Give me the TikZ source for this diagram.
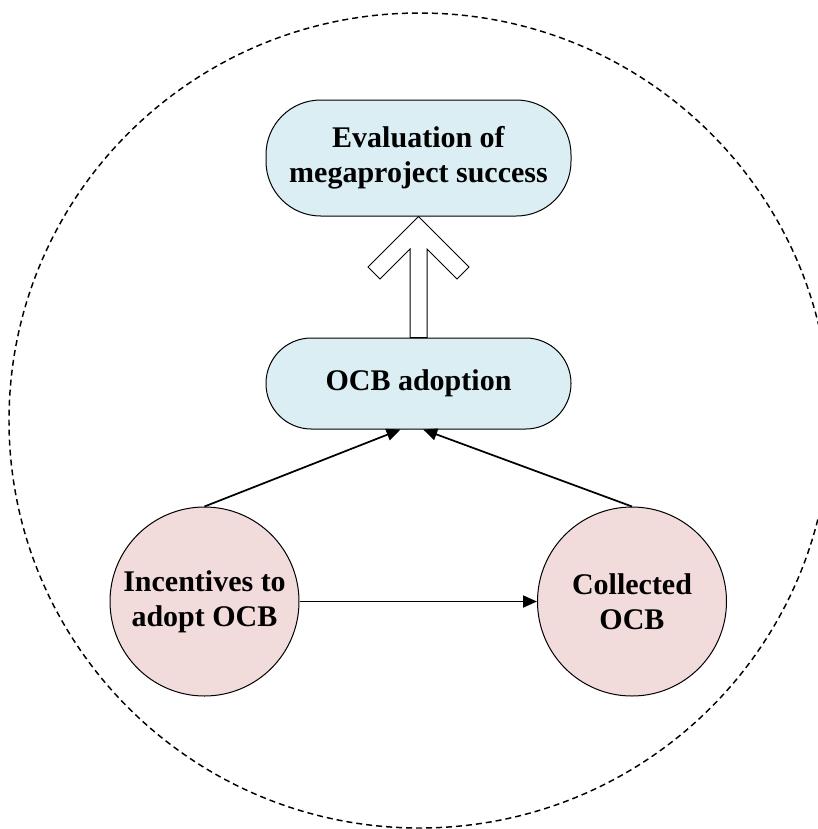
\documentclass[tikz,border=0pt]{standalone}
\usepackage{fontspec}
\setmainfont{Liberation Serif}
\usetikzlibrary{arrows.meta,calc}
\definecolor{boxblue}{HTML}{DAEEF3}
\definecolor{discpink}{HTML}{F2DCDB}
\begin{document}
\begin{tikzpicture}[x=0.75pt,y=-0.75pt,
  lbl/.style={font=\fontsize{22.5}{26.25}\selectfont\bfseries, align=center, text=black},
  pill/.style={lbl, draw=black, line width=0.75pt, fill=boxblue,
               minimum width=228.75pt, inner sep=0pt},
  disc/.style={lbl, circle, draw=black, line width=0.75pt, fill=discpink,
               minimum size=141.75pt, inner sep=0pt},
  link/.style={line width=1.3pt, -{Triangle[length=10.5pt,width=9pt]}},
  hollow/.style={draw=black, line width=0.75pt, fill=white, line join=miter},
  frame/.style={line width=1.1pt, dash pattern=on 4.5pt off 3pt}]
\useasboundingbox (0,0) rectangle (818,829);

% dashed boundary, cut off by the page edge on the right
\begin{scope}
  \clip (0,0) rectangle (818,829);
  \draw[frame] (419.5,420.5) ellipse [x radius=410.5, y radius=407.5];
\end{scope}

% nodes
\node[pill, rounded corners=41pt, minimum height=87pt] (eval) at (418.5,158)
  {Evaluation of\\megaproject success};
\node[pill, rounded corners=34pt, minimum height=68.25pt] (adopt) at (418.5,383.5)
  {OCB adoption};
\node[disc] (inc) at (204.5,601.5) {Incentives to\\adopt OCB};
\node[disc] (col) at (632,601.5) {Collected\\OCB};

% connectors
\draw[link] (inc) -- (col);
\draw[link] (inc.north) -- ([xshift=-13.5pt]adopt.south);
\draw[link] (col.north) -- ([xshift=3.5pt]adopt.south);

% hollow block arrow from OCB adoption up to the evaluation box
\draw[hollow] (eval.south) -- ++(50.5,50.5) -- ++(-12,12) -- ++(-30,-30) coordinate (ri)
  -- (ri |- adopt.north) -- ++(-17,0) coordinate (li) -- (li |- ri)
  -- ++(-30,30) -- ++(-12,-12) -- cycle;
\end{tikzpicture}
\end{document}
